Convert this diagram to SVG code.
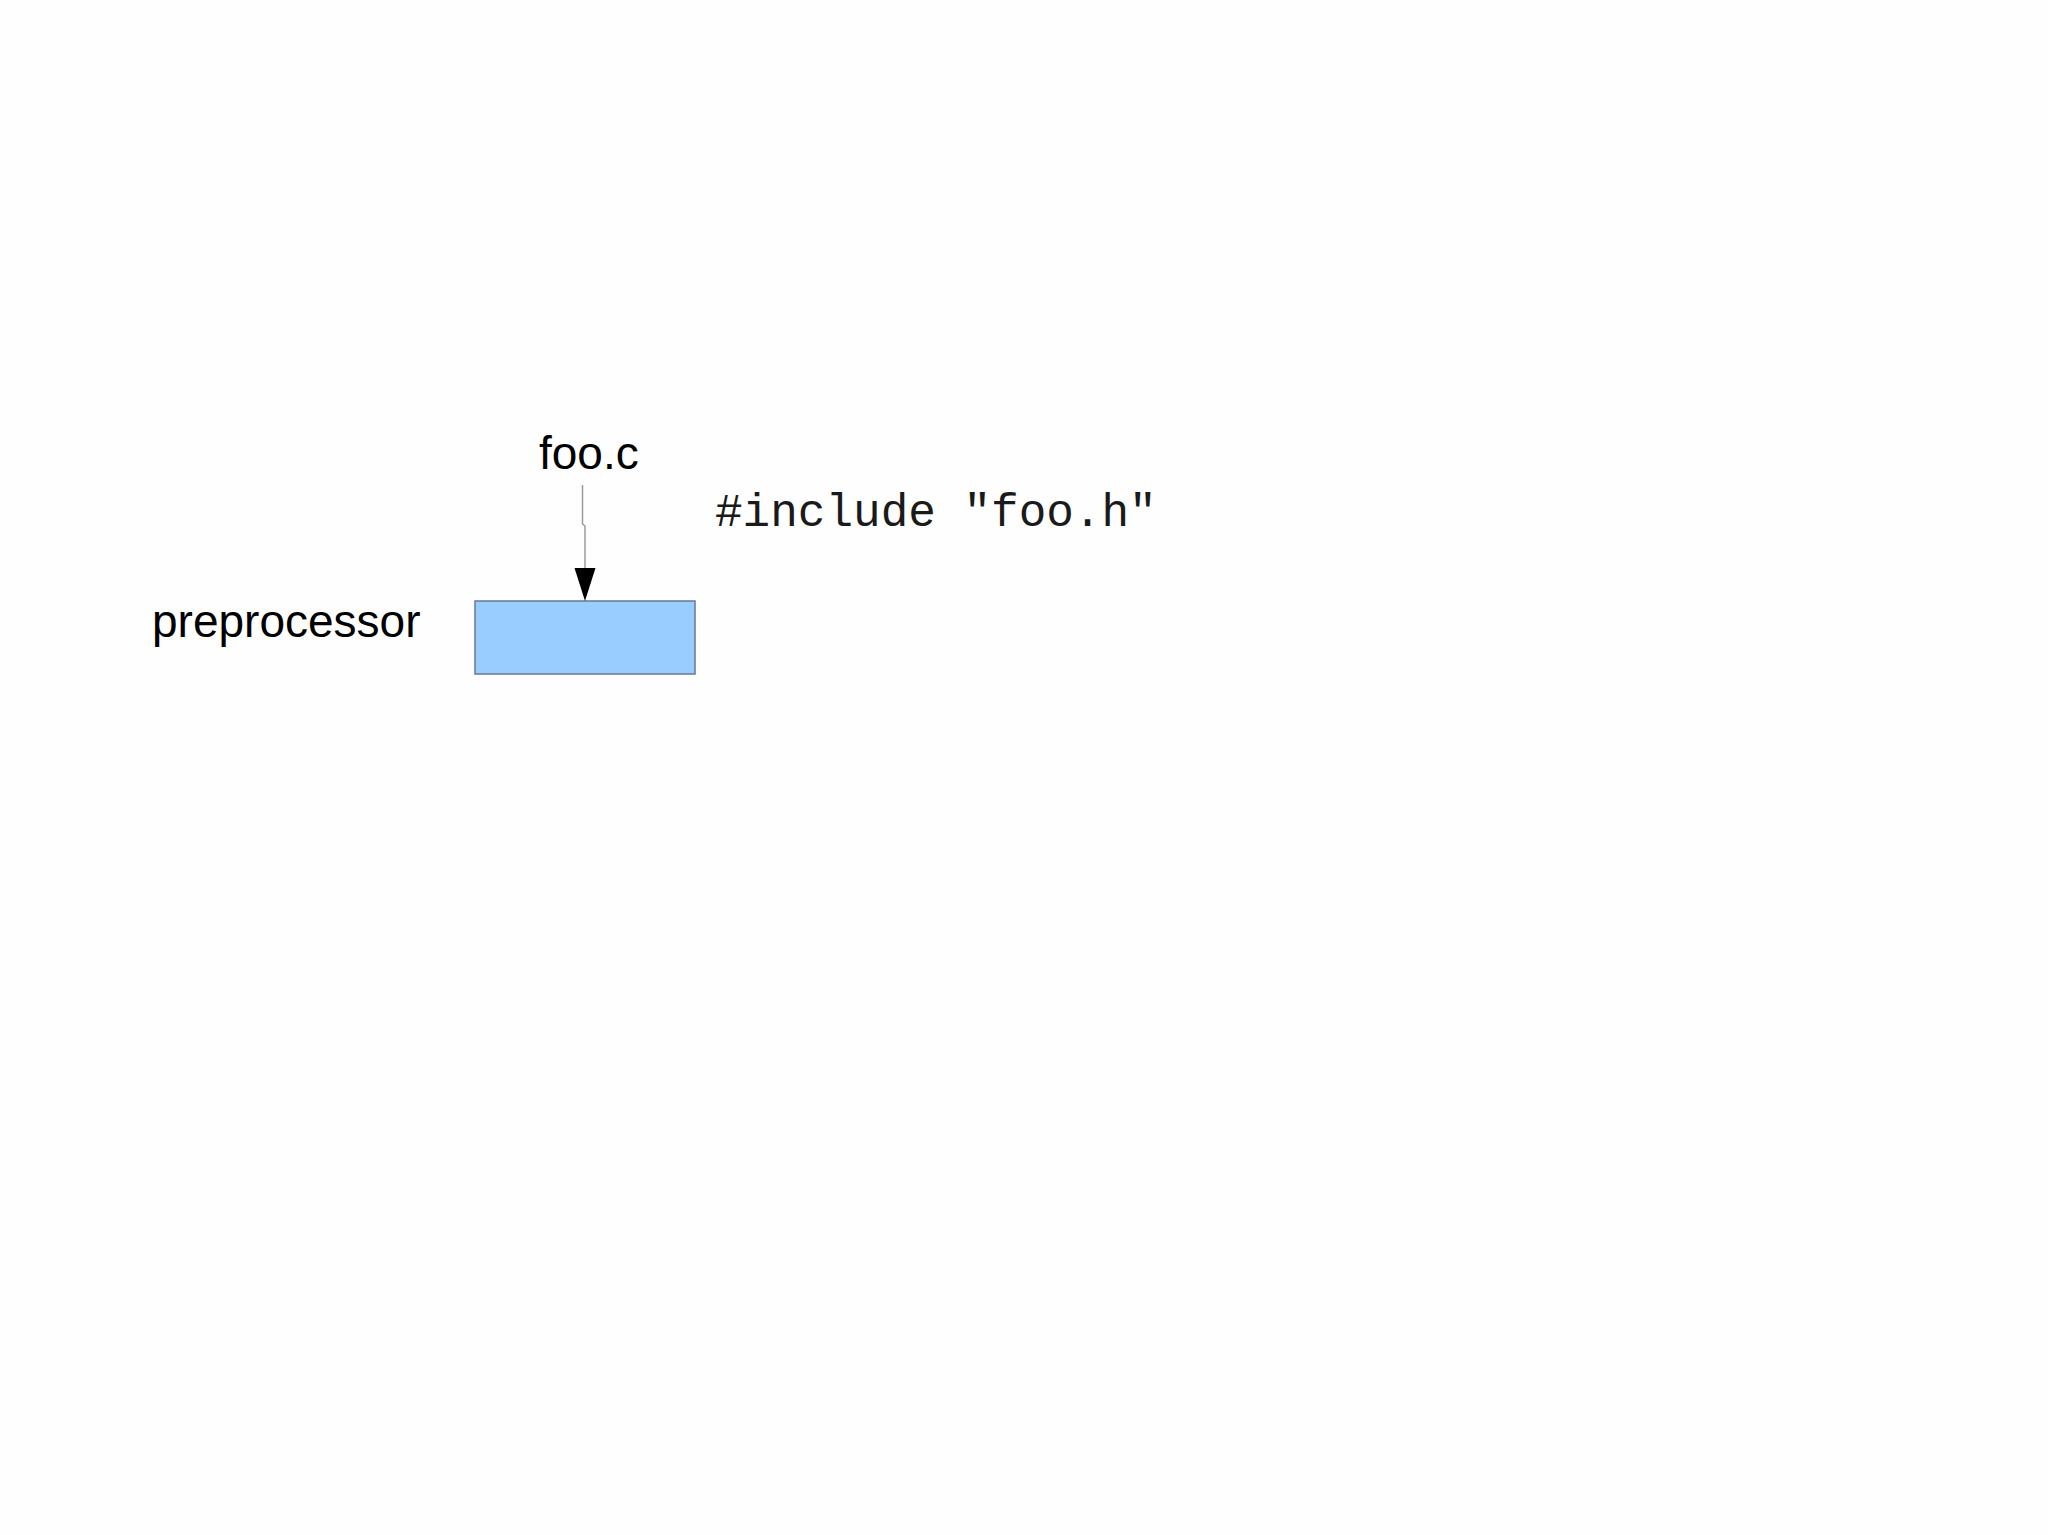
<svg xmlns="http://www.w3.org/2000/svg" width="2048" height="1535" viewBox="0 0 2048 1535">
<style>
.lbl{font-family:"Liberation Sans",Arial,sans-serif;font-size:46px;fill:#000}
.code{font-family:"Liberation Mono","Courier New",monospace;font-size:46px;fill:#1a1a1a}
.conn{fill:none;stroke:#9a9a9a;stroke-width:1.5}
</style>
<rect width="2048" height="1535" fill="#fefefe"/>
<g id="label-preprocessor"><text class="lbl" x="152" y="637">preprocessor</text></g>
<g id="node-foo-c"><text class="lbl" x="539" y="469">foo.c</text></g>
<g id="label-include"><text class="code" x="715" y="526">#include "foo.h"</text></g>
<g id="node-preprocessor"><rect x="475" y="601" width="220" height="73" fill="#99ccff" stroke="#667799" stroke-width="1.5"/></g>
<g id="connectors">
<path class="conn" d="M582.5 485 V524 L585 526 V569"/>
<polygon points="574.5,568 595.5,568 585,601" fill="#000"/>
</g>
</svg>
